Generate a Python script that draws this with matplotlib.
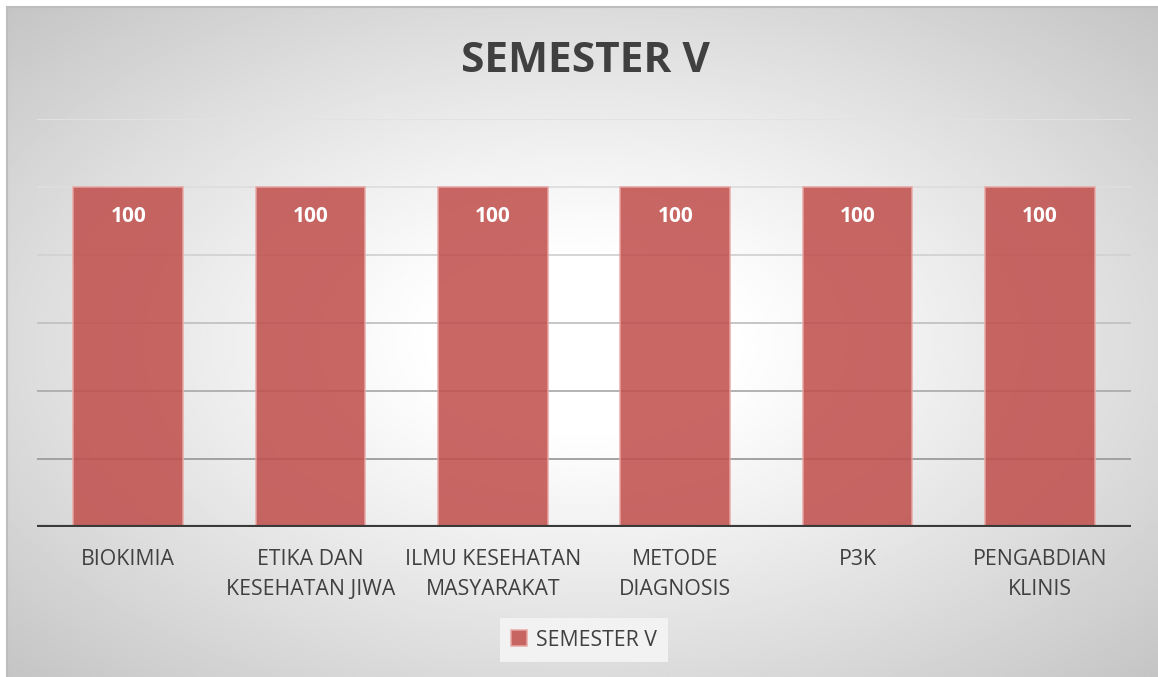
import numpy as np
import matplotlib
matplotlib.use("Agg")
import matplotlib.pyplot as plt

plt.rcParams['font.family'] = ['Open Sans', 'DejaVu Sans']

# ---- data
categories = ['BIOKIMIA', 'ETIKA DAN\nKESEHATAN JIWA', 'ILMU KESEHATAN\nMASYARAKAT',
              'METODE\nDIAGNOSIS', 'P3K', 'PENGABDIAN\nKLINIS']
values = [100, 100, 100, 100, 100, 100]
series_name = 'SEMESTER V'
title = 'SEMESTER V'

W, H = 1158, 677
fig = plt.figure(figsize=(W / 100, H / 100), dpi=100)
fig.patch.set_facecolor('white')

# ---- radial gradient background of the chart area
bg = fig.add_axes([7 / W, 0, 1 - 7 / W, 1 - 7 / H], zorder=0)
yy, xx = np.mgrid[0:300, 0:600]
cx, cy = 300, 150
r = np.sqrt(((xx - cx) / 300.0) ** 2 + ((yy - cy) / 150.0) ** 2)
v = 1 - 0.23 * np.clip((r - 0.25) / (1.414 - 0.25), 0, 1) ** 1.1
bg.imshow(v, cmap='gray', vmin=0, vmax=1, aspect='auto', extent=[0, 1, 0, 1])
bg.set_axis_off()
fig.add_artist(plt.Line2D([7 / W, 7 / W], [0, 1 - 7 / H], color='#BDBDBD', lw=1.5, transform=fig.transFigure))
fig.add_artist(plt.Line2D([7 / W, 1], [1 - 7 / H, 1 - 7 / H], color='#BDBDBD', lw=1.5, transform=fig.transFigure))

# ---- plot area
ax = fig.add_axes([37 / W, (H - 527) / H, (1131 - 37) / W, (527 - 119) / H], zorder=1)
ax.patch.set_alpha(0)
x = np.arange(len(categories))

grid_colors = {20: '#9C9C9C', 40: '#ADADAD', 60: '#C2C2C2', 80: '#D2D2D2', 100: '#DEDEDE', 120: '#E2E2E2'}
for yv, c in grid_colors.items():
    ax.axhline(yv, color=c, lw=1.3, zorder=1)

bars = ax.bar(x, values, width=0.6, color='#C0504D', alpha=0.87,
              edgecolor='#E9A7A5', linewidth=1.2, zorder=2)
for xi, val in zip(x, values):
    ax.annotate(str(val), (xi, val), xytext=(0, -21), textcoords='offset points',
                ha='center', va='center', color='white', fontsize=15, fontweight='bold', zorder=3)

ax.axhline(0, color='#3A3A3A', lw=3, zorder=4)
ax.set_xlim(-0.5, len(categories) - 0.5)
ax.set_ylim(0, 120)
ax.set_yticks([])
ax.set_xticks(x)
ax.set_xticklabels(categories, fontsize=15.3, color='#404040', linespacing=1.55)
ax.tick_params(axis='x', length=0, pad=16)
for s in ax.spines.values():
    s.set_visible(False)

fig.text(585 / W, 1 - 61 / H, title, ha='center', va='center', fontsize=30.5,
         fontweight='bold', color='#404040')

# ---- legend
leg = ax.legend([bars], [series_name], loc='center', bbox_to_anchor=(584 / W, 1 - 640 / H),
                bbox_transform=fig.transFigure, frameon=True, fancybox=False,
                fontsize=15.3, handlelength=0.75, handleheight=0.75, handletextpad=0.4,
                borderpad=0.55, borderaxespad=0)
leg.get_frame().set_facecolor('#F2F2F2')
leg.get_frame().set_edgecolor('none')
leg.get_frame().set_alpha(1)
for t in leg.get_texts():
    t.set_color('#404040')

fig.savefig('out.png', dpi=100)
